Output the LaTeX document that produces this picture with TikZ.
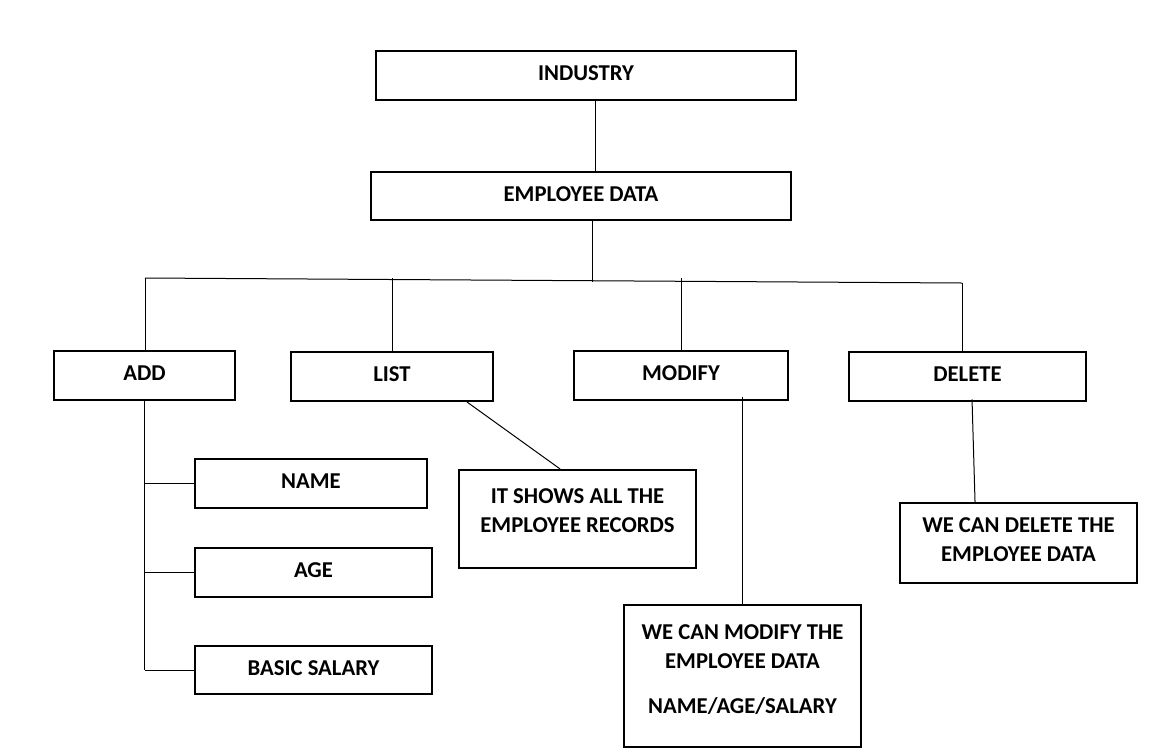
\documentclass[tikz,border=0pt]{standalone}
\usepackage{fontspec}
\setmainfont{Carlito}

\begin{document}
\begin{tikzpicture}[x=0.75pt,y=0.75pt,yscale=-1,xscale=1,
	box/.style={draw, line width=1.5pt, inner sep=0pt, align=center, text depth=3pt, font=\fontsize{17}{21.75}\selectfont\bfseries},
	wire/.style={line width=0.75pt}]
		\useasboundingbox (0,0) rectangle (1165,754);
		% boxes
		\node [box, minimum width=315pt, minimum height=36.75pt] (industry) at (586,75.5) {INDUSTRY};
		\node [box, minimum width=315pt, minimum height=36pt] (empdata) at (581,196) {EMPLOYEE DATA};
		\node [box, minimum width=135.75pt, minimum height=36.75pt] (add) at (144.5,375.5) {ADD};
		\node [box, minimum width=151.5pt, minimum height=36.75pt] (list) at (392,376.5) {LIST};
		\node [box, minimum width=160.5pt, minimum height=36.75pt] (modify) at (681,375.5) {MODIFY};
		\node [box, minimum width=177.75pt, minimum height=36.75pt] (delete) at (967.5,376.5) {DELETE};
		\node [box, minimum width=174pt, minimum height=36.75pt] (name) at (311,483.5) {NAME};
		\node [box, minimum width=177.75pt, minimum height=36.75pt] (age) at (313.5,572.5) {AGE};
		\node [box, minimum width=177.75pt, minimum height=36pt] (salary) at (313.5,670) {BASIC SALARY};
		\node [box, minimum width=177.75pt, minimum height=73.5pt, text depth=12pt] (records) at (577.5,519) {IT SHOWS ALL THE\\EMPLOYEE RECORDS};
		\node [box, minimum width=177.75pt, minimum height=106.5pt, text depth=10pt] (modnote) at (742.5,676) {WE CAN MODIFY THE\\EMPLOYEE DATA\\[12pt]NAME/AGE/SALARY};
		\node [box, minimum width=177.75pt, minimum height=60pt, text depth=5pt] (delnote) at (1018.5,543) {WE CAN DELETE THE\\EMPLOYEE DATA};
		% bus
		\coordinate (busL) at (145,278);
		\coordinate (busR) at (962,283);
		\draw [wire] (busL) -- (busR);
		\draw [wire] ([xshift=6.75pt]industry.south) -- ([xshift=6.75pt]industry.south |- empdata.north);
		\draw [wire] ([xshift=8.25pt]empdata.south) -- ++(0,61);
		\draw [wire] (busL) -- (busL |- add.north);
		\draw [wire] (list.north |- busL) -- (list.north);
		\draw [wire] (modify.north |- busL) -- (modify.north);
		\draw [wire] (busR) -- (busR |- delete.north);
		% add branches
		\draw [wire] (add.south) -- (add.south |- salary.west);
		\draw [wire] (add.south |- name.west) -- (name.west);
		\draw [wire] (add.south |- age.west) -- (age.west);
		\draw [wire] (add.south |- salary.west) -- (salary.west);
		% notes
		\draw [wire] ([xshift=56.25pt]list.south) -- ([xshift=-13pt]records.north);
		\draw [wire] (modnote.north) -- ([yshift=-3pt]modnote.north |- modify.south);
		\draw [wire] ([xshift=3.4pt,yshift=-2pt]delete.south) -- ([xshift=-32.6pt]delnote.north);
\end{tikzpicture}
\end{document}
